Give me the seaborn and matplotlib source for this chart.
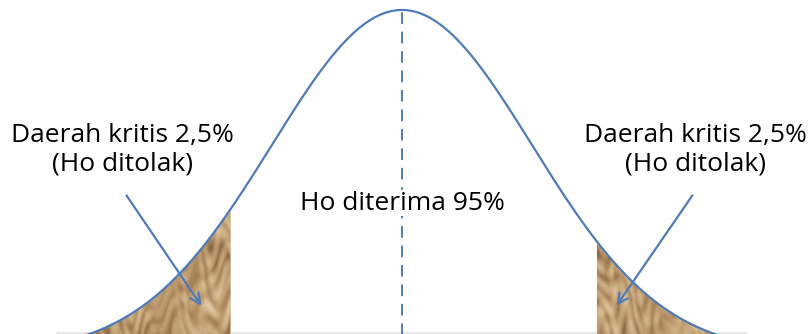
import numpy as np
import pandas as pd
import matplotlib
matplotlib.use("Agg")
import matplotlib.pyplot as plt
import seaborn as sns
from matplotlib.path import Path
from matplotlib.patches import PathPatch
from matplotlib.colors import LinearSegmentedColormap

sns.set_theme(style="white")
plt.rcParams['font.family'] = ['Open Sans', 'DejaVu Sans']

# ---- data ----
z_grid = np.linspace(-3.2, 3.2, 641)
z_cut_left = -1.32      # batas kritis kiri (as drawn)
z_cut_right = 1.50      # batas kritis kanan (as drawn)
label_tail = "Daerah kritis 2,5%\n(Ho ditolak)"
label_center = "Ho diterima 95%"

density = np.exp(-z_grid ** 2 / 2)   # normal curve, scaled to peak = 1
df = pd.DataFrame({"z": z_grid, "f": density})

blue = "#4f7cb8"

fig = plt.figure(figsize=(8.09, 3.34), dpi=100)
ax = fig.add_axes([0, 0, 1, 1])
ax.set_xlim(-3.092, 3.131)
ax.set_ylim(0.0554, 1.029)
ax.axis("off")

# ---- tails with a crumpled paper texture ----
tail = (df["z"] <= z_cut_left) | (df["z"] >= z_cut_right)
poly = ax.fill_between(df["z"], 0, df["f"], where=tail, color="#b8946a",
                       linewidth=0, zorder=1)
clip = PathPatch(Path.make_compound_path(*poly.get_paths()),
                 transform=ax.transData, facecolor="none", edgecolor="none")
ax.add_patch(clip)

gx, gy = np.meshgrid(np.linspace(-3.2, 3.2, 800), np.linspace(0, 1.05, 300))
# warped coordinates so the folds look irregular
wx = gx + 0.06 * np.sin(9.0 * gy + 3.0 * gx) + 0.04 * np.sin(23.0 * gy - 7.0 * gx)
wy = gy + 0.04 * np.sin(11.0 * gx - 5.0 * gy) + 0.03 * np.sin(27.0 * gx + 13.0 * gy)
tex = (np.abs(np.sin(17.3 * wx + 31.0 * wy))
       + 0.9 * np.abs(np.sin(-13.1 * wx + 43.0 * wy + 1.3))
       + 0.7 * np.abs(np.sin(29.7 * wx - 19.0 * wy + 0.4))
       + 0.5 * np.sin(41.0 * wx + 67.0 * wy)
       + 0.4 * np.sin(-37.0 * wx + 53.0 * wy + 2.1)
       + 0.8 * np.sin(6.0 * gx + 9.0 * gy) * np.sin(4.0 * gx - 14.0 * gy))
paper = LinearSegmentedColormap.from_list(
    "paper", ["#6a4a2a", "#9a7550", "#b8946a", "#cdae84", "#e2cba6"])
im = ax.imshow(tex, extent=(-3.2, 3.2, 0, 1.05), origin="lower",
               aspect="auto", cmap=paper, zorder=2, interpolation="bilinear")
im.set_clip_path(clip)

# ---- curve, centre line, baseline ----
sns.lineplot(data=df, x="z", y="f", color=blue, linewidth=1.6, ax=ax, zorder=4)
ax.plot([0, 0], [0, 1], color=blue, linewidth=1.4, dashes=(6, 4), zorder=4)
ax.plot([-2.65, 2.65], [0.058, 0.058], color="#e3e3e3", linewidth=1.2, zorder=0)

# ---- labels and arrows ----
ax.text(-2.15, 0.592, label_tail, ha="center", va="center", fontsize=19,
        color="black", linespacing=1.2)
ax.text(2.26, 0.592, label_tail, ha="center", va="center", fontsize=19,
        color="black", linespacing=1.2)
ax.text(0.0, 0.437, label_center, ha="center", va="center", fontsize=19,
        color="black", zorder=5,
        bbox=dict(facecolor="white", edgecolor="none", pad=0.3))

arrow = dict(arrowstyle="->", color=blue, lw=1.6, mutation_scale=18)
ax.annotate("", xy=(-1.531, 0.131), xytext=(-2.131, 0.466),
            arrowprops=arrow, zorder=6)
ax.annotate("", xy=(1.638, 0.131), xytext=(2.246, 0.466),
            arrowprops=arrow, zorder=6)

fig.savefig("out.png", dpi=100)
